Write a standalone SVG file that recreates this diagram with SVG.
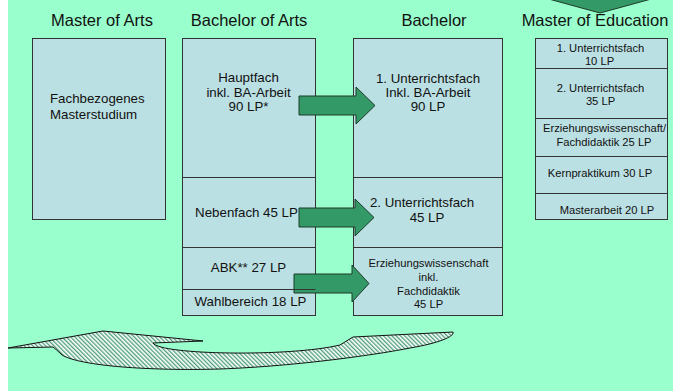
<svg xmlns="http://www.w3.org/2000/svg" width="673" height="391" viewBox="0 0 673 391">
<style>
.t{font-family:"Liberation Sans",Arial,sans-serif;fill:#111;text-anchor:middle}
.h{font-size:16.5px}
.m{font-size:13.3px}
.s{font-size:11.2px}
.box{fill:#BBE0E3;stroke:#333;stroke-width:1}
.sep{stroke:#333;stroke-width:1}
.arr{fill:#339966;stroke:#1e3a2a;stroke-width:1}
</style>
<defs>
<pattern id="hatch" width="3" height="3" patternUnits="userSpaceOnUse" patternTransform="rotate(-45)">
<rect width="3" height="3" fill="#ffffff"/>
<rect width="1.3" height="3" fill="#4a9e7a"/>
</pattern>
</defs>
<rect x="0" y="0" width="673" height="391" fill="#ffffff"/>
<rect x="8" y="0" width="665" height="391" fill="#99FFCC"/>

<g id="titles">
<text class="t h" x="102" y="26">Master of Arts</text>
<text class="t h" x="249" y="26">Bachelor of Arts</text>
<text class="t h" x="434" y="26">Bachelor</text>
<text class="t h" x="595" y="26">Master of Education</text>
</g>

<g id="master-arts">
<rect class="box" x="32.5" y="38.5" width="133" height="181"/>
<text class="t m" x="50" y="102.5" style="text-anchor:start">Fachbezogenes</text>
<text class="t m" x="50" y="118.5" style="text-anchor:start">Masterstudium</text>
</g>

<g id="bachelor-arts">
<rect class="box" x="182.5" y="38.5" width="133" height="277"/>
<line class="sep" x1="182.5" y1="177.5" x2="315.5" y2="177.5"/>
<line class="sep" x1="182.5" y1="247.5" x2="315.5" y2="247.5"/>
<line class="sep" x1="182.5" y1="289.5" x2="315.5" y2="289.5"/>
<text class="t m" x="248.5" y="82">Hauptfach</text>
<text class="t m" x="248.5" y="96.5">inkl. BA-Arbeit</text>
<text class="t m" x="248.5" y="111">90 LP*</text>
<text class="t m" x="246.5" y="217">Nebenfach 45 LP</text>
<text class="t m" x="248.5" y="272">ABK** 27 LP</text>
<text class="t m" x="250.5" y="306">Wahlbereich 18 LP</text>
</g>

<g id="bachelor">
<rect class="box" x="353.5" y="38.5" width="149" height="277"/>
<line class="sep" x1="353.5" y1="177.5" x2="502.5" y2="177.5"/>
<line class="sep" x1="353.5" y1="247.5" x2="502.5" y2="247.5"/>
<text class="t m" x="428" y="82.5">1. Unterrichtsfach</text>
<text class="t m" x="428" y="96.5">Inkl. BA-Arbeit</text>
<text class="t m" x="428" y="111">90 LP</text>
<text class="t m" x="422" y="207">2. Unterrichtsfach</text>
<text class="t m" x="427" y="222">45 LP</text>
<text class="t s" x="428.5" y="267">Erziehungswissenschaft</text>
<text class="t s" x="428.5" y="281">inkl.</text>
<text class="t s" x="428.5" y="294.5">Fachdidaktik</text>
<text class="t s" x="428.5" y="308">45 LP</text>
</g>

<g id="master-education">
<rect class="box" x="535.5" y="38.5" width="132" height="181"/>
<line class="sep" x1="535.5" y1="68.5" x2="667.5" y2="68.5"/>
<line class="sep" x1="535.5" y1="118.5" x2="667.5" y2="118.5"/>
<line class="sep" x1="535.5" y1="156.5" x2="667.5" y2="156.5"/>
<line class="sep" x1="535.5" y1="193.5" x2="667.5" y2="193.5"/>
<text class="t s" x="600.5" y="52">1. Unterrichtsfach</text>
<text class="t s" x="599.5" y="64.5">10 LP</text>
<text class="t s" x="600.5" y="91.5">2. Unterrichtsfach</text>
<text class="t s" x="600.5" y="105">35 LP</text>
<text class="t s" x="604.5" y="132">Erziehungswissenschaft/</text>
<text class="t s" x="604" y="146">Fachdidaktik 25 LP</text>
<text class="t s" x="600" y="176.5">Kernpraktikum 30 LP</text>
<text class="t s" x="607" y="214">Masterarbeit 20 LP</text>
</g>

<g id="connectors">
<polygon class="arr" points="299,96 356,96 356,87 375,105.5 356,124 356,115 299,115"/>
<polygon class="arr" points="299,208 355,208 355,199 374,217.5 355,236 355,227 299,227"/>
<polygon class="arr" points="294,274 352,274 352,265 369,283.5 352,302 352,293 294,293"/>
<line class="sep" x1="294" y1="289.5" x2="315.5" y2="289.5"/>
<polygon class="arr" points="545,-2 655,-2 600,13"/>
<path d="M8,348 L103,331 L203,341 L153,343 C160,355 290,357 340,345 L353,337 L453,332 C455,336 440,343 410,348 C380,354 300,366 220,369 C150,371 80,366 62,355 Q57,350 53,347 Z" fill="url(#hatch)" stroke="#111" stroke-width="1"/>
</g>
</svg>
